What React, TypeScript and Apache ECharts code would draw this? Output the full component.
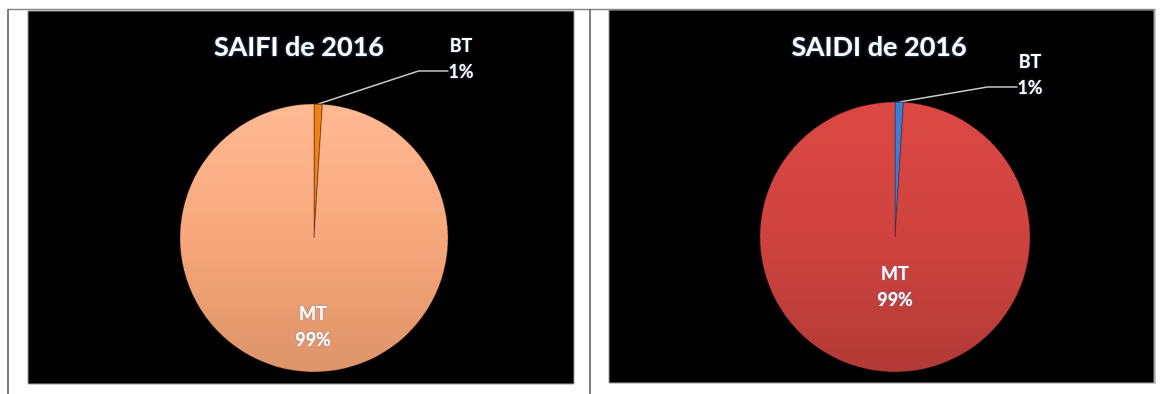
import React, { useEffect, useRef } from "react";
import * as echarts from "echarts";

const categories = ["BT", "MT"];
const saifiValues = [1, 99];
const saidiValues = [1, 99];
const chartTitles = ["SAIFI de 2016", "SAIDI de 2016"];

const FONT = "Lato, 'Open Sans', sans-serif";

const labelSpots: Record<string, [number, number]> = {
  "0-0": [461, 71],
  "0-1": [313, 326],
  "1-0": [1030, 87],
  "1-1": [895, 286],
};

function buildSeries(
  idx: number,
  values: number[],
  center: [number, number],
  radius: number,
  mtColor: any,
  btColor: string,
  btBorder: string
) {
  return {
    type: "pie",
    name: chartTitles[idx],
    center,
    radius,
    startAngle: 90,
    clockwise: true,
    avoidLabelOverlap: false,
    label: {
      color: "#FFFFFF",
      fontFamily: FONT,
      fontWeight: "bold",
      fontSize: 18,
      lineHeight: 26,
      align: "center",
      formatter: "{b}\n{d}%",
      textShadowColor: "rgba(90,130,210,0.55)",
      textShadowBlur: 2,
    },
    labelLine: {
      show: true,
      smooth: false,
      lineStyle: { color: "#C9C9C9", width: 1.5 },
    },
    labelLayout: (p: any) => {
      const s = labelSpots[`${idx}-${p.dataIndex}`];
      return { x: s[0], y: s[1], align: "center", verticalAlign: "middle" };
    },
    data: categories.map((c, i) => ({
      name: c,
      value: values[i],
      label:
        i === 0
          ? { position: "outside", formatter: "{b}\n{d}%\n " }
          : { position: "inside" },
      labelLine: { show: i === 0 },
      itemStyle:
        i === 0
          ? { color: btColor, borderColor: btBorder, borderWidth: 1 }
          : { color: mtColor, borderColor: "rgba(60,20,10,0.35)", borderWidth: 1 },
    })),
  };
}

export default function App() {
  const ref = useRef<HTMLDivElement>(null);
  useEffect(() => {
    document.body.style.margin = "0";
    const chart = echarts.init(ref.current!, null, { renderer: "svg" });
    const peach = new echarts.graphic.LinearGradient(0, 0, 0, 1, [
      { offset: 0, color: "#FFBA94" },
      { offset: 0.5, color: "#F7A77B" },
      { offset: 1, color: "#DC9468" },
    ]);
    const red = new echarts.graphic.LinearGradient(0, 0, 0, 1, [
      { offset: 0, color: "#DC4844" },
      { offset: 0.5, color: "#CF433F" },
      { offset: 1, color: "#B23A36" },
    ]);
    const titleStyle = {
      color: "#FFFFFF",
      fontFamily: FONT,
      fontWeight: "bold",
      fontSize: 27,
      textShadowColor: "rgba(90,130,220,0.7)",
      textShadowBlur: 3,
    };
    const option: any = {
      animation: false,
      backgroundColor: "#FFFFFF",
      graphic: [
        { type: "rect", z: -10, shape: { x: 28, y: 11, width: 546, height: 373 }, style: { fill: "#000000", stroke: "#9A9A9A", lineWidth: 1 } },
        { type: "rect", z: -10, shape: { x: 609, y: 10, width: 545, height: 373 }, style: { fill: "#000000", stroke: "#9A9A9A", lineWidth: 1 } },
        { type: "line", z: -5, shape: { x1: 8, y1: 9.5, x2: 1155, y2: 9.5 }, style: { stroke: "#8A8A8A", lineWidth: 1.5 } },
        { type: "line", z: -5, shape: { x1: 8, y1: 9, x2: 8, y2: 394 }, style: { stroke: "#555555", lineWidth: 1.5 } },
        { type: "line", z: -5, shape: { x1: 590, y1: 9, x2: 590, y2: 394 }, style: { stroke: "#555555", lineWidth: 1.5 } },
        { type: "line", z: -5, shape: { x1: 1155, y1: 9, x2: 1155, y2: 384 }, style: { stroke: "#888888", lineWidth: 1 } },
      ],
      title: [
        { text: chartTitles[0], left: 299, top: 45, padding: 0, textAlign: "center", textVerticalAlign: "middle", textStyle: titleStyle },
        { text: chartTitles[1], left: 879, top: 45, padding: 0, textAlign: "center", textVerticalAlign: "middle", textStyle: titleStyle },
      ],
      series: [
        buildSeries(0, saifiValues, [314, 238], 134, peach, "#EE8214", "#6B3A10"),
        buildSeries(1, saidiValues, [895, 237], 135, red, "#3C7FD6", "#1F4C8A"),
      ],
    };
    chart.setOption(option);
    return () => chart.dispose();
  }, []);
  return <div ref={ref} style={{ width: 1160, height: 394 }} />;
}
